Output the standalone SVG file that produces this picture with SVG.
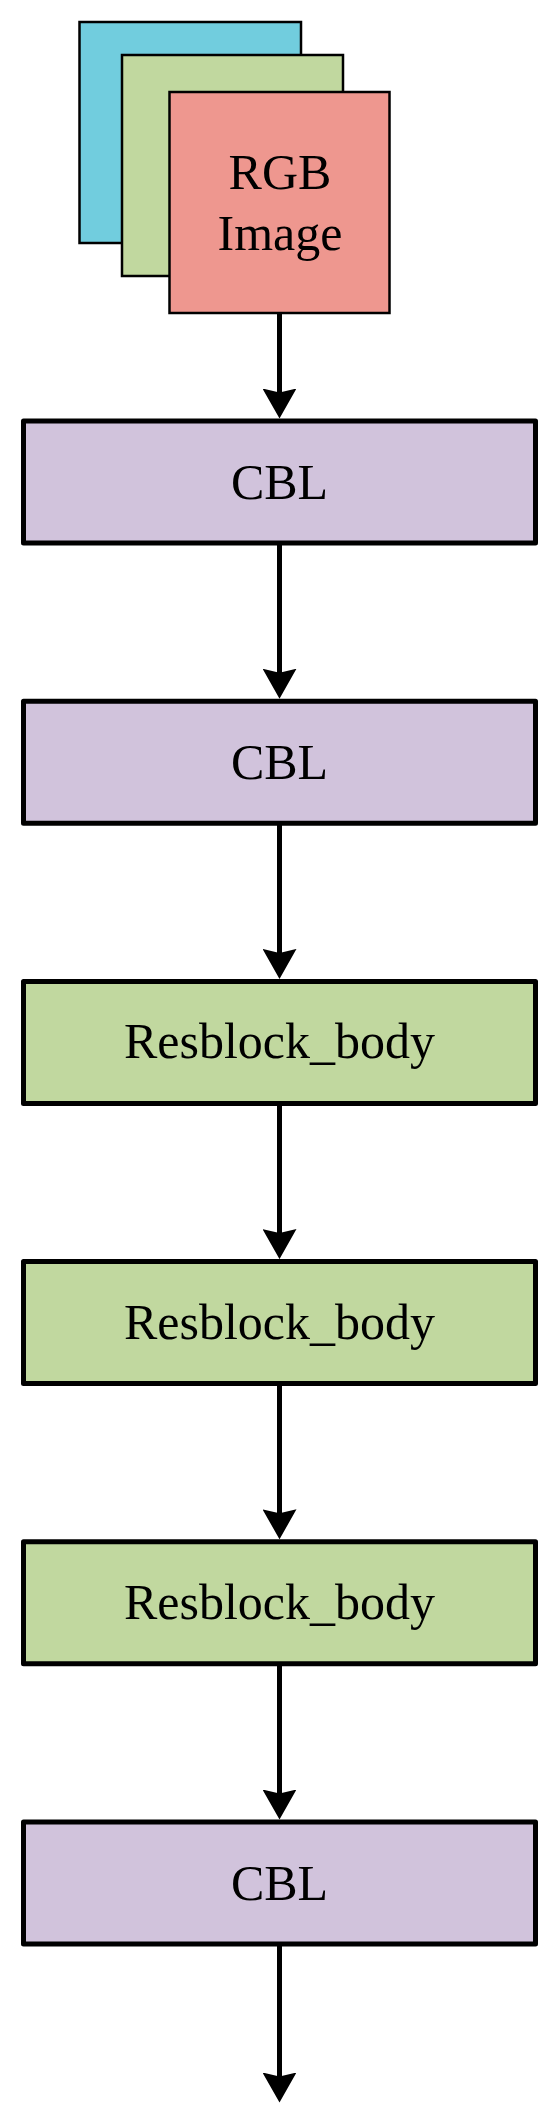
<svg xmlns="http://www.w3.org/2000/svg" width="558" height="2117" viewBox="0 0 558 2117">
<style>
.lbl{font-family:"Liberation Serif","Times New Roman",serif;font-size:50px;fill:#000;text-anchor:middle}
.img{stroke:#000;stroke-width:2.5}
.box{stroke:#000;stroke-width:5;stroke-linejoin:round}
.cbl{fill:#D1C3DC}
.res{fill:#C1D89F}
.conn{stroke:#000;stroke-width:5;fill:none}
</style>
<defs>
<marker id="ah" markerUnits="userSpaceOnUse" viewBox="0 -17 30 34" markerWidth="30" markerHeight="34" refX="15" refY="0" orient="auto">
<path d="M0,-17 L30,0 L0,17 L4,0 Z" fill="#000"/>
</marker>
</defs>
<rect width="558" height="2117" fill="#fff"/>
<g id="rgb-image">
<rect class="img" x="79.5" y="22" width="221.5" height="221" fill="#71CDDE"/>
<rect class="img" x="122" y="55" width="221" height="221" fill="#C1D89F"/>
<rect class="img" x="169.5" y="92" width="220" height="221" fill="#EE978F"/>
<text class="lbl" x="280" y="189">RGB</text>
<text class="lbl" x="280" y="250">Image</text>
</g>
<g id="cbl1"><rect class="box cbl" x="23.5" y="421" width="512" height="122"/><text class="lbl" x="279.5" y="498.5">CBL</text></g>
<g id="cbl2"><rect class="box cbl" x="23.5" y="701.2" width="512" height="122"/><text class="lbl" x="279.5" y="778.7">CBL</text></g>
<g id="res1"><rect class="box res" x="23.5" y="981.4" width="512" height="122"/><text class="lbl" x="279.5" y="1058.4">Resblock_body</text></g>
<g id="res2"><rect class="box res" x="23.5" y="1261.6" width="512" height="122"/><text class="lbl" x="279.5" y="1338.6">Resblock_body</text></g>
<g id="res3"><rect class="box res" x="23.5" y="1541.8" width="512" height="122"/><text class="lbl" x="279.5" y="1618.8">Resblock_body</text></g>
<g id="cbl3"><rect class="box cbl" x="23.5" y="1822" width="512" height="122"/><text class="lbl" x="279.5" y="1899.5">CBL</text></g>
<g id="connectors">
<line class="conn" x1="279.5" y1="313" x2="279.5" y2="403.5" marker-end="url(#ah)"/>
<line class="conn" x1="279.5" y1="543" x2="279.5" y2="683.7" marker-end="url(#ah)"/>
<line class="conn" x1="279.5" y1="823.2" x2="279.5" y2="963.9" marker-end="url(#ah)"/>
<line class="conn" x1="279.5" y1="1103.4" x2="279.5" y2="1244.1" marker-end="url(#ah)"/>
<line class="conn" x1="279.5" y1="1383.6" x2="279.5" y2="1524.3" marker-end="url(#ah)"/>
<line class="conn" x1="279.5" y1="1663.8" x2="279.5" y2="1804.5" marker-end="url(#ah)"/>
<line class="conn" x1="279.5" y1="1944" x2="279.5" y2="2087.5" marker-end="url(#ah)"/>
</g>
</svg>
